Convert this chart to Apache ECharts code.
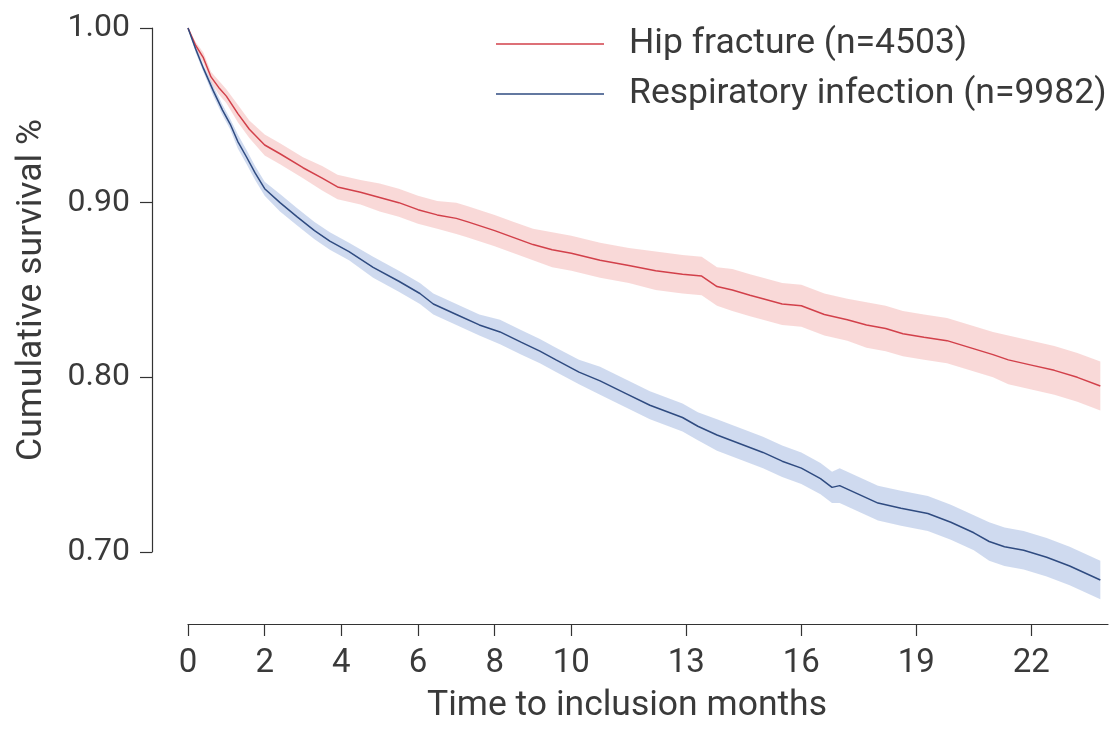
<!DOCTYPE html>
<html>
<head>
<meta charset="utf-8">
<script src="https://cdn.jsdelivr.net/npm/echarts@6/dist/echarts.min.js"></script>
<style>
  html, body { margin: 0; padding: 0; background: #ffffff; }
  #chart { width: 1115px; height: 729px; }
</style>
</head>
<body>
<div id="chart"></div>
<script>
// ---- Data ----
const xTickValues = [0, 2, 4, 6, 8, 10, 13, 16, 19, 22];
const yTickValues = [0.70, 0.80, 0.90, 1.00];

const hipName = 'Hip fracture (n=4503)';
const respName = 'Respiratory infection (n=9982)';

const hipMonths   = [0, 0.2, 0.4, 0.6, 0.8, 1.0, 1.3, 1.6, 2.0, 2.4, 3.0, 3.5, 3.9, 4.5, 5.0, 5.5, 6.0, 6.5, 7.0, 7.3, 8.0, 8.5, 9.0, 9.5, 10.0, 10.75, 11.5, 12.2, 12.9, 13.4, 13.6, 13.8, 14.2, 14.66, 15.0, 15.5, 16.0, 16.6, 17.2, 17.7, 18.2, 18.65, 19.2, 19.8, 20.4, 21.0, 21.4, 22.0, 22.6, 23.2, 23.8];
const hipSurvival = [1.000, 0.990, 0.983, 0.972, 0.966, 0.961, 0.951, 0.942, 0.933, 0.928, 0.920, 0.914, 0.909, 0.906, 0.903, 0.900, 0.896, 0.893, 0.891, 0.889, 0.884, 0.880, 0.876, 0.873, 0.871, 0.867, 0.864, 0.861, 0.859, 0.858, 0.855, 0.852, 0.850, 0.847, 0.845, 0.842, 0.841, 0.836, 0.833, 0.830, 0.828, 0.825, 0.823, 0.821, 0.817, 0.813, 0.810, 0.807, 0.804, 0.800, 0.795];
const hipHalfCI   = [0.000, 0.002, 0.003, 0.003, 0.004, 0.004, 0.005, 0.005, 0.006, 0.006, 0.006, 0.007, 0.007, 0.007, 0.008, 0.008, 0.008, 0.008, 0.009, 0.009, 0.009, 0.009, 0.009, 0.010, 0.010, 0.010, 0.010, 0.011, 0.011, 0.011, 0.011, 0.011, 0.012, 0.012, 0.012, 0.012, 0.012, 0.012, 0.012, 0.013, 0.013, 0.013, 0.013, 0.013, 0.013, 0.013, 0.014, 0.014, 0.014, 0.014, 0.014];

const respMonths   = [0, 0.2, 0.4, 0.66, 0.9, 1.1, 1.3, 1.53, 1.75, 2.0, 2.4, 2.84, 3.3, 3.7, 4.2, 4.83, 5.5, 6.05, 6.4, 7.0, 7.6, 8.14, 8.7, 9.18, 9.6, 10.2, 10.75, 11.4, 12.05, 12.9, 13.3, 13.8, 14.4, 15.0, 15.5, 16.0, 16.5, 16.8, 17.0, 17.5, 18.0, 18.6, 19.3, 19.9, 20.5, 20.9, 21.3, 21.8, 22.4, 23.0, 23.8];
const respSurvival = [1.000, 0.988, 0.977, 0.964, 0.953, 0.945, 0.935, 0.926, 0.917, 0.908, 0.900, 0.892, 0.884, 0.878, 0.872, 0.863, 0.855, 0.848, 0.842, 0.836, 0.830, 0.826, 0.820, 0.815, 0.810, 0.803, 0.798, 0.791, 0.784, 0.777, 0.772, 0.767, 0.762, 0.757, 0.752, 0.748, 0.742, 0.737, 0.738, 0.733, 0.728, 0.725, 0.722, 0.717, 0.711, 0.706, 0.703, 0.701, 0.697, 0.692, 0.684];
const respHalfCI   = [0.000, 0.002, 0.002, 0.003, 0.003, 0.003, 0.004, 0.004, 0.004, 0.004, 0.005, 0.005, 0.005, 0.005, 0.005, 0.006, 0.006, 0.006, 0.006, 0.006, 0.006, 0.007, 0.007, 0.007, 0.007, 0.007, 0.008, 0.008, 0.008, 0.008, 0.008, 0.009, 0.009, 0.009, 0.009, 0.009, 0.009, 0.009, 0.010, 0.010, 0.010, 0.010, 0.010, 0.010, 0.010, 0.011, 0.011, 0.011, 0.011, 0.011, 0.011];

// ---- Styles ----
const FONT = 'Roboto';
const TEXT = '#3a3a3a';
const hipColor = '#d2404a';
const hipBand = 'rgba(238, 150, 148, 0.36)';
const respColor = '#2f4b80';
const respBand = 'rgba(128, 158, 214, 0.38)';

function pairs(xs, ys) { return xs.map((x, i) => [x, ys[i]]); }

// Confidence band drawn as one polygon through the axis scales (api.coord)
function bandSeries(id, xs, s, h, color) {
  return {
    id: id + '_band', type: 'custom', silent: true, z: 1, clip: false,
    data: [[xs[0], s[0]]],
    renderItem: function (params, api) {
      const upper = xs.map((x, i) => api.coord([x, s[i] + h[i]]));
      const lowerPts = xs.map((x, i) => api.coord([x, s[i] - h[i]])).reverse();
      return {
        type: 'polygon',
        shape: { points: upper.concat(lowerPts) },
        style: { fill: color, stroke: null }
      };
    }
  };
}

const chart = echarts.init(document.getElementById('chart'));
chart.setOption({
  animation: false,
  backgroundColor: '#ffffff',
  textStyle: { fontFamily: FONT },
  grid: { left: 188, right: 7, top: 28, bottom: 174, containLabel: false },
  legend: {
    data: [hipName, respName],
    orient: 'vertical',
    left: 491, top: 21,
    icon: 'rect',
    itemWidth: 108, itemHeight: 1.5,
    itemGap: 14,
    textStyle: { fontFamily: FONT, fontSize: 35.5, color: TEXT, lineHeight: 36, padding: [0, 0, 0, 20] },
    selectedMode: false
  },
  xAxis: {
    type: 'value', min: 0, max: 24, offset: 72,
    name: 'Time to inclusion months', nameLocation: 'middle', nameGap: 64,
    nameTextStyle: { fontFamily: FONT, fontSize: 35.5, color: TEXT, padding: [0, 42, 0, 0] },
    axisLine: { show: true, onZero: false, lineStyle: { color: '#333', width: 1.2 } },
    axisTick: { show: true, length: 12, customValues: xTickValues, lineStyle: { color: '#333', width: 1.2 } },
    axisLabel: { customValues: xTickValues, margin: 23, fontFamily: FONT, fontSize: 33, color: TEXT },
    splitLine: { show: false }
  },
  yAxis: {
    type: 'value', min: 0.7, max: 1.0, interval: 0.1, offset: 36,
    name: 'Cumulative survival %', nameLocation: 'middle', nameGap: 102, nameRotate: 90,
    nameTextStyle: { fontFamily: FONT, fontSize: 35.5, color: TEXT },
    axisLine: { show: true, onZero: false, lineStyle: { color: '#333', width: 1.2 } },
    axisTick: { show: true, length: 12, customValues: yTickValues, lineStyle: { color: '#333', width: 1.2 } },
    axisLabel: { customValues: yTickValues, margin: 22, fontFamily: FONT, fontSize: 32, color: TEXT,
      formatter: v => Number(v).toFixed(2) },
    splitLine: { show: false }
  },
  series: [
    bandSeries('hip', hipMonths, hipSurvival, hipHalfCI, hipBand),
    bandSeries('resp', respMonths, respSurvival, respHalfCI, respBand),
    { name: hipName, type: 'line', data: pairs(hipMonths, hipSurvival), symbol: 'none', color: hipColor,
      clip: false, lineStyle: { color: hipColor, width: 1.5 }, z: 3 },
    { name: respName, type: 'line', data: pairs(respMonths, respSurvival), symbol: 'none', color: respColor,
      clip: false, lineStyle: { color: respColor, width: 1.5 }, z: 3 }
  ]
});
</script>
</body>
</html>
